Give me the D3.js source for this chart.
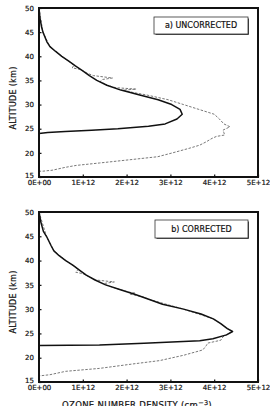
<!DOCTYPE html>
<html>
<head>
<meta charset="utf-8">
<script src="https://cdn.jsdelivr.net/npm/d3@7"></script>
<style>
  body { margin: 0; background: #fff; }
  svg { display: block; }
  text { font-family: "DejaVu Sans", sans-serif; fill: #111; stroke: #111; stroke-width: 0.2px; }
</style>
</head>
<body>
<svg id="chart" width="270" height="406"></svg>
<script>
const svg = d3.select("#chart");

// x values are in units of 1E+12 cm^-3, altitudes in km
const xTicks = [0, 1, 2, 3, 4, 5];
const xTickLabels = ["0E+00", "1E+12", "2E+12", "3E+12", "4E+12", "5E+12"];
const yTicks = [15, 20, 25, 30, 35, 40, 45, 50];

// a) uncorrected
const altTopSolid = [50, 48, 46, 45, 43, 42, 41, 40, 39, 38, 37, 36, 35, 34, 33, 32, 31, 30, 29, 28, 27, 26, 25.5, 25, 24.7, 24.4, 24.2, 24];
const valTopSolid = [0, 0.02, 0.06, 0.09, 0.18, 0.25, 0.38, 0.52, 0.68, 0.83, 1.0, 1.15, 1.32, 1.55, 1.87, 2.3, 2.72, 3.03, 3.22, 3.27, 3.15, 2.88, 2.5, 1.8, 1.2, 0.6, 0.2, 0];
const altTopDash = [50, 45, 42, 40, 38.2, 37.6, 37.3, 36.5, 36, 35.5, 35.2, 34.8, 34, 33.5, 33.2, 33, 32.5, 32, 31, 30, 29, 28, 27, 26, 25.4, 24.7, 24.2, 23.7, 23.4, 23, 22.3, 21.6, 21, 20, 19.2, 18.6, 17.9, 17.4, 17, 16.4, 16.2, 16.2];
const valTopDash = [0, 0.09, 0.25, 0.52, 0.8, 0.76, 0.93, 1.1, 1.24, 1.68, 1.45, 1.4, 1.55, 1.75, 2.22, 1.92, 2.15, 2.45, 2.95, 3.3, 3.65, 4.0, 4.12, 4.22, 4.36, 4.2, 4.22, 4.24, 4.05, 3.95, 3.82, 3.67, 3.45, 3.05, 2.71, 2.1, 1.38, 0.85, 0.6, 0.3, 0.08, 0.02];

// b) corrected
const altBotSolid = [50, 48, 46, 45, 43, 42, 41, 40, 39, 38, 37, 36, 35, 34, 33, 32, 31, 30, 29, 28, 27, 26, 25.4, 24.7, 23.9, 23.5, 23, 22.6, 22.5];
const valBotSolid = [0, 0.04, 0.1, 0.17, 0.28, 0.34, 0.46, 0.61, 0.78, 0.93, 1.08, 1.28, 1.52, 1.86, 2.2, 2.52, 2.82, 3.3, 3.7, 3.98, 4.15, 4.3, 4.42, 4.28, 3.97, 3.67, 2.4, 1.38, 0];
const altBotDash = [50, 45, 42, 40, 38.2, 37.6, 37.3, 36.5, 36, 35.6, 35.3, 34.9, 34, 33.5, 33.3, 33.1, 32.5, 32, 30, 28, 26, 25.4, 24.7, 24.3, 23.6, 23.3, 23, 22.5, 21.6, 20.5, 19.4, 18.7, 17.8, 17.2, 16.5, 16.3, 16.3];
const valBotDash = [0, 0.17, 0.34, 0.61, 0.9, 0.84, 1.0, 1.18, 1.3, 1.72, 1.5, 1.55, 1.86, 2.05, 2.2, 2.08, 2.38, 2.52, 3.3, 3.98, 4.3, 4.42, 4.28, 4.2, 4.15, 4.0, 3.85, 3.82, 3.74, 3.3, 2.75, 2.13, 1.38, 0.61, 0.25, 0.05, 0.02];

const panels = [
  { top: 8, bottom: 177, label: "a) UNCORRECTED", box: [154, 17, 94, 17], titleY: 98,
    solid: [altTopSolid, valTopSolid], dash: [altTopDash, valTopDash] },
  { top: 212, bottom: 382, label: "b) CORRECTED", box: [155, 220, 93, 18], titleY: 302,
    solid: [altBotSolid, valBotSolid], dash: [altBotDash, valBotDash] }
];

const left = 39, right = 258;
const x = d3.scaleLinear().domain([0, 5]).range([left, right]);

panels.forEach(p => {
  const y = d3.scaleLinear().domain([15, 50]).range([p.bottom, p.top]);
  const g = svg.append("g");

  const line = d3.line()
    .x(d => x(d[1]))
    .y(d => y(d[0]));

  const dashPts = d3.zip(p.dash[0], p.dash[1]);
  const solidPts = d3.zip(p.solid[0], p.solid[1]);

  g.append("path")
    .attr("d", line(dashPts))
    .attr("fill", "none")
    .attr("stroke", "#555")
    .attr("stroke-width", 0.8)
    .attr("stroke-dasharray", "2.5,1.5");

  g.append("path")
    .attr("d", line(solidPts))
    .attr("fill", "none")
    .attr("stroke", "#111")
    .attr("stroke-width", 1.5)
    .attr("stroke-linejoin", "round");

  // axes (ticks pointing inward)
  const xAxis = g.append("g")
    .attr("transform", `translate(0,${p.bottom})`)
    .call(d3.axisBottom(x).tickValues(xTicks).tickSize(-2.5)
      .tickFormat((d, i) => xTickLabels[i]));
  xAxis.select(".domain").remove();
  xAxis.selectAll("text")
    .attr("y", 3.5)
    .style("font-size", "7px")
    .style("font-family", "DejaVu Sans, sans-serif")
    .attr("fill", "#111");

  const yAxis = g.append("g")
    .attr("transform", `translate(${left},0)`)
    .call(d3.axisLeft(y).tickValues(yTicks).tickSize(-2.5));
  yAxis.select(".domain").remove();
  yAxis.selectAll("text")
    .attr("x", -5)
    .attr("dy", d => d === 15 ? "0.1em" : "0.32em")
    .style("font-size", "7px")
    .style("font-family", "DejaVu Sans, sans-serif")
    .attr("fill", "#111");
  g.selectAll(".tick line").attr("stroke", "#111").attr("stroke-width", 1.2);

  // frame
  g.append("rect")
    .attr("x", left).attr("y", p.top)
    .attr("width", right - left).attr("height", p.bottom - p.top)
    .attr("fill", "none")
    .attr("stroke", "#111")
    .attr("stroke-width", 2);

  // label box with shadow
  const [bx, by, bw, bh] = p.box;
  g.append("path")
    .attr("d", `M${bx + 1.5},${by + bh} H${bx + bw} V${by + 1.5}`)
    .attr("fill", "none").attr("stroke", "#111").attr("stroke-width", 1.6);
  g.append("rect")
    .attr("x", bx).attr("y", by).attr("width", bw).attr("height", bh)
    .attr("fill", "#fff").attr("stroke", "#333").attr("stroke-width", 0.8);
  g.append("text")
    .attr("x", bx + bw / 2).attr("y", by + bh / 2 + 2.8)
    .attr("text-anchor", "middle")
    .style("font-size", "8px")
    .text(p.label);

  g.append("text")
    .attr("transform", `translate(16,${p.titleY}) rotate(-90)`)
    .attr("text-anchor", "middle")
    .style("font-size", "8px")
    .style("letter-spacing", "0.3px")
    .text("ALTITUDE (km)");
});

svg.append("text")
  .attr("x", 137).attr("y", 408)
  .attr("text-anchor", "middle")
  .style("font-size", "8.5px")
  .style("letter-spacing", "0.3px")
  .text("OZONE NUMBER DENSITY (cm")
  .append("tspan")
  .attr("dy", -3.5)
  .style("font-size", "6.5px")
  .text("−3")
  .append("tspan")
  .attr("dy", 3.5)
  .style("font-size", "8.5px")
  .text(")");
</script>
</body>
</html>
